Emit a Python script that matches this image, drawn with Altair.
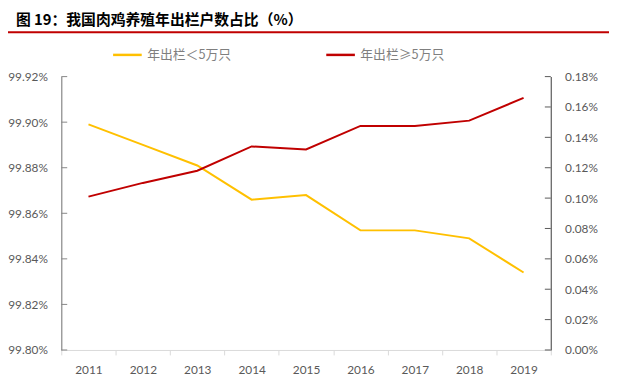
import altair as alt
import pandas as pd

years = ["2011", "2012", "2013", "2014", "2015", "2016", "2017", "2018", "2019"]
small_share = [99.899, 99.890, 99.881, 99.866, 99.868, 99.8525, 99.8525, 99.849, 99.834]
large_share = [0.101, 0.110, 0.118, 0.134, 0.132, 0.1475, 0.1475, 0.151, 0.166]
series_names = ["年出栏＜5万只", "年出栏≥5万只"]
series_colors = ["#FFC000", "#C00000"]
left_ticks = [99.80, 99.82, 99.84, 99.86, 99.88, 99.90, 99.92]
right_ticks = [0.00, 0.02, 0.04, 0.06, 0.08, 0.10, 0.12, 0.14, 0.16, 0.18]
title_text = "图 19：我国肉鸡养殖年出栏户数占比（%）"

W, H = 496, 277
df_small = pd.DataFrame({"year": years, "value": small_share, "series": series_names[0]})
df_large = pd.DataFrame({"year": years, "value": large_share, "series": series_names[1]})

color = alt.Color(
    "series:N",
    scale=alt.Scale(domain=series_names, range=series_colors),
    legend=alt.Legend(
        orient="none", legendX=51, legendY=-38, direction="horizontal",
        title=None, symbolType="stroke", symbolSize=841, symbolStrokeWidth=2.5,
        labelFont="Noto Sans CJK SC", labelFontSize=13, labelColor="#7f7f7f",
        columnPadding=90, labelOffset=4,
    ),
)
xenc = alt.X(
    "year:O", sort=years, title=None,
    scale=alt.Scale(paddingInner=0, paddingOuter=0),
    axis=alt.Axis(labelAngle=0, tickBand="extent", domainColor="#d9d9d9",
                  tickColor="#d9d9d9", tickSize=5, labelPadding=10,
                  labelFont="Lato", labelFontSize=12, labelColor="#595959", grid=False),
)
lscale = alt.Scale(domain=[99.80, 99.92], zero=False, nice=False)
rscale = alt.Scale(domain=[0, 0.18], nice=False)

left_line = alt.Chart(df_small).mark_line(strokeWidth=2).encode(
    x=xenc,
    y=alt.Y("value:Q", scale=lscale, title=None,
            axis=alt.Axis(values=left_ticks, labelExpr="format(datum.value, '.2f') + '%'",
                          grid=False, ticks=False, domainColor="#868686", domainWidth=1.2,
                          labelFont="Lato", labelFontSize=12, labelColor="#595959",
                          labelPadding=14)),
    color=color,
)
right_line = alt.Chart(df_large).mark_line(strokeWidth=2).encode(
    x=xenc,
    y=alt.Y("value:Q", scale=rscale, title=None,
            axis=alt.Axis(orient="right", values=right_ticks,
                          labelExpr="format(datum.value, '.2f') + '%'",
                          grid=False, ticks=False, domainColor="#595959", domainWidth=1.2,
                          labelFont="Lato", labelFontSize=12, labelColor="#595959",
                          labelPadding=14)),
    color=color,
)
left_tk = alt.Chart(pd.DataFrame({"v": left_ticks})).mark_rule(color="#868686").encode(
    y=alt.Y("v:Q", scale=lscale, axis=None), x=alt.value(0), x2=alt.value(6))
right_tk = alt.Chart(pd.DataFrame({"v": right_ticks})).mark_rule(color="#595959").encode(
    y=alt.Y("v:Q", scale=rscale, axis=None), x=alt.value(W - 6), x2=alt.value(W))
header = alt.Chart(pd.DataFrame({"k": [0]})).mark_rule(color="#C00000", strokeWidth=2).encode(
    x=alt.value(-54), x2=alt.value(W + 60), y=alt.value(-45))

chart = alt.layer(left_line, left_tk, right_line, right_tk, header).resolve_scale(
    y="independent"
).properties(
    width=W, height=H,
    autosize=alt.AutoSizeParams(type="none"),
    padding={"left": 54, "top": 67, "right": 59, "bottom": 35},
    title=alt.TitleParams(title_text, anchor="start", frame="group", dx=-46, offset=3,
                          font="Noto Sans CJK SC", fontSize=15, fontWeight="bold", color="#000000"),
).configure_view(strokeWidth=0)

chart.save("out.html", embed_options={"renderer": "svg", "actions": False})
